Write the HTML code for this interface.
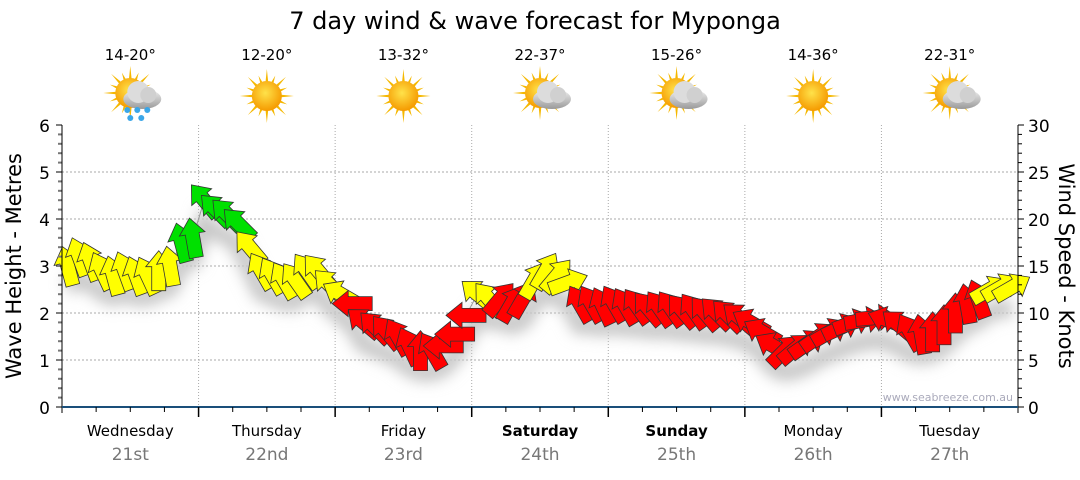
<!DOCTYPE html>
<html><head><meta charset="utf-8"><style>
body{margin:0;background:#fff;width:1080px;height:475px;overflow:hidden;font-family:"Liberation Sans","DejaVu Sans",sans-serif}
svg text{font-family:"DejaVu Sans","Liberation Sans",sans-serif}
</style></head><body>
<svg id="chart" width="1080" height="475" xmlns="http://www.w3.org/2000/svg">
<defs>
<radialGradient id="sunG" cx="45%" cy="40%" r="60%"><stop offset="0" stop-color="#ffe24a"/><stop offset="1" stop-color="#f59a00"/></radialGradient>
<linearGradient id="cloudG" x1="0" y1="0" x2="0" y2="1"><stop offset="0" stop-color="#f2f2f2"/><stop offset="1" stop-color="#9a9a9a"/></linearGradient>
<filter id="shadow" x="-50%" y="-50%" width="200%" height="200%"><feGaussianBlur stdDeviation="7"/></filter>
</defs>
<text x="535" y="29" font-size="24" text-anchor="middle" fill="#000">7 day wind &amp; wave forecast for Myponga</text>
<g id="grid"></g><g id="icons"></g><g id="shadows"></g><g id="line"></g><g id="arrows"></g><g id="axes"></g>
<text x="1013" y="401" font-size="11" text-anchor="end" fill="#aab">www.seabreeze.com.au</text>
<text transform="translate(21,266) rotate(-90)" font-size="21" text-anchor="middle">Wave Height - Metres</text>
<text transform="translate(1059,266) rotate(90)" font-size="21" text-anchor="middle">Wind Speed - Knots</text>
</svg>
<script>
const days=["Wednesday","Thursday","Friday","Saturday","Sunday","Monday","Tuesday"];
const dates=["21st","22nd","23rd","24th","25th","26th","27th"];
const boldDays=[false,false,false,true,true,false,false];
const temps=["14-20°","12-20°","13-32°","22-37°","15-26°","14-36°","22-31°"];
const icons=["rain","sun","sun","cloud","cloud","sun","cloud"];
const waveTicks=[0,1,2,3,4,5,6];
const windTicks=[0,5,10,15,20,25,30];
const waveHeight=[3.0,3.2,3.1,2.9,2.8,2.9,2.8,2.8,2.9,3.0,3.5,3.6,
 4.4,4.2,4.1,3.9,3.4,2.9,2.8,2.7,2.7,2.9,2.9,2.6,
 2.4,2.2,1.8,1.7,1.6,1.5,1.3,1.2,1.2,1.3,1.55,1.95,
 2.4,2.3,2.3,2.2,2.3,2.7,2.9,2.8,2.65,2.2,2.2,2.15,
 2.2,2.15,2.15,2.1,2.1,2.1,2.05,2.05,2.0,2.0,1.95,1.9,
 1.8,1.6,1.3,1.2,1.25,1.35,1.5,1.6,1.7,1.8,1.85,1.9,
 1.85,1.75,1.6,1.55,1.6,1.75,2.0,2.2,2.3,2.5,2.55,2.55];
const windDir=[-15,-20,-20,-25,-15,-20,-20,-25,0,-10,-15,-10,
 -40,-45,-45,-45,-40,-30,-30,-30,-35,-35,-40,-45,
 -60,-90,-50,-45,-40,-30,-25,0,-30,-90,-90,-90,
 -50,-40,40,30,30,30,30,40,70,-30,-30,-25,
 -30,-30,-35,-40,-35,-35,-40,-35,-40,-45,-45,-50,
 -60,-60,-60,45,50,55,55,60,65,70,80,85,
 -70,-50,-30,-10,0,0,0,-10,-20,60,60,60];
const windSpeed=[14,14,14,14,14,14,14,14,14,14,18,18,
 19,18,18,18,14,14,14,14,14,14,14,13,
 13,9,9,9,9,9,9,9,9,9,9,9,
 13,13,10,10,10,14,14,14,13,10,10,10,
 10,10,10,10,10,10,10,10,10,10,10,10,
 9,9,9,9,9,9,9,9,9,9,9,9,
 9,9,9,9,9,9,9,9,9,13,13,13];
const NS='http://www.w3.org/2000/svg';
const X0=62,X1=1018,Y0=407,Y1=125,dayW=(X1-X0)/7,PER=12;
const yW=h=>Y0-h*(Y0-Y1)/6, yK=k=>Y0-k*(Y0-Y1)/30, xI=i=>X0+(i+0.5)*dayW/PER;
function mk(p,t,a){const e=document.createElementNS(NS,t);for(const k in a)e.setAttribute(k,a[k]);p.appendChild(e);return e;}
const grid=document.getElementById('grid'),axes=document.getElementById('axes');
waveTicks.forEach(v=>{if(v>0&&v<6){const l=mk(grid,'line',{x1:X0,x2:X1,y1:yW(v),y2:yW(v),stroke:'#aaa','stroke-dasharray':'2,2'});}
 const t=mk(axes,'text',{x:50,y:yW(v)+7,'font-size':17,'text-anchor':'end',fill:'#000'});t.textContent=v;
 mk(axes,'line',{x1:X0-6,x2:X0,y1:yW(v),y2:yW(v),stroke:'#000'});});
for(let m=0;m<=30;m++){if(m%5)mk(axes,'line',{x1:X0-4,x2:X0,y1:yW(m/5),y2:yW(m/5),stroke:'#777','stroke-width':2});}
windTicks.forEach(v=>{const t=mk(axes,'text',{x:1028,y:yK(v)+7,'font-size':17,fill:'#000'});t.textContent=v;mk(axes,'line',{x1:X1,x2:X1+6,y1:yK(v),y2:yK(v),stroke:'#000'});});
for(let k=0;k<=30;k++){if(k%5)mk(axes,'line',{x1:X1,x2:X1+4,y1:yK(k),y2:yK(k),stroke:'#000'});}
mk(axes,'line',{x1:X0,x2:X0,y1:Y1,y2:Y0+6,stroke:'#000'});
mk(axes,'line',{x1:X1,x2:X1,y1:Y1,y2:Y0+6,stroke:'#000'});
mk(axes,'line',{x1:X0,x2:X1,y1:Y0,y2:Y0,stroke:'#1a4f7a','stroke-width':2});
const ic=document.getElementById('icons');
days.forEach((d,i)=>{const xl=X0+i*dayW,xc=xl+dayW/2;
 if(i>0){const g=mk(grid,'line',{x1:xl,x2:xl,y1:Y1,y2:Y0,stroke:'#aaa','stroke-dasharray':'1,2'});mk(axes,'line',{x1:xl,x2:xl,y1:Y0,y2:Y0+10,stroke:'#000','stroke-width':1.5});}
 for(let q=1;q<4;q++)mk(axes,'line',{x1:xl+q*dayW/4,x2:xl+q*dayW/4,y1:Y0,y2:Y0+5,stroke:'#000'});
 const t=mk(axes,'text',{x:xc,y:436,'font-size':15,'text-anchor':'middle','font-weight':boldDays[i]?'bold':'normal'});t.textContent=d;
 const t2=mk(axes,'text',{x:xc,y:460,'font-size':17,'text-anchor':'middle',fill:'#777'});t2.textContent=dates[i];
 const t3=mk(ic,'text',{x:xc,y:60,'font-size':15,'text-anchor':'middle'});t3.textContent=temps[i];
 const g=mk(ic,'g',{transform:`translate(${xc},${icons[i]=='sun'?96:93})`});
 for(let r=0;r<16;r++){const a=r*Math.PI/8,L=r%2?22:27;mk(g,'polygon',{points:`${Math.cos(a-0.13)*12},${Math.sin(a-0.13)*12} ${Math.cos(a)*L},${Math.sin(a)*L} ${Math.cos(a+0.13)*12},${Math.sin(a+0.13)*12}`,fill:'#f5b800'});}
 mk(g,'circle',{r:15,fill:'url(#sunG)'});
 if(icons[i]!='sun'){mk(g,'ellipse',{cx:12,cy:6,rx:19,ry:10,fill:'url(#cloudG)'});mk(g,'circle',{cx:8,cy:-1,r:11,fill:'#dcdcdc'});mk(g,'circle',{cx:18,cy:2,r:8,fill:'#d0d0d0'});}
 if(icons[i]=='rain'){[[-3,17],[7,17],[17,17],[0,25],[11,25]].forEach(p=>mk(g,'circle',{cx:p[0],cy:p[1],r:3,fill:'#3aa6e8'}));}
});
const sh=document.getElementById('shadows'),ar=document.getElementById('arrows');
let pts=waveHeight.map((h,i)=>xI(i)+','+yW(h)).join(' ');
const pl=mk(document.getElementById('line'),'polyline',{points:pts,fill:'none',stroke:'#999','stroke-width':1});
mk(sh,'polyline',{points:waveHeight.map((h,i)=>xI(i)+','+(yW(h)+22)).join(' '),fill:'none',stroke:'#c8c8c8','stroke-width':18,filter:'url(#shadow)'});
const col=k=>k>=17?'#00e000':k>=12?'#ffff00':'#ff0000';
waveHeight.forEach((h,i)=>{
 const p=mk(ar,'polygon',{points:'0,-20 13,-4 7,-4 7,20 -7,20 -7,-4 -13,-4',fill:col(windSpeed[i]),stroke:'#333','stroke-width':0.8,transform:`translate(${xI(i)},${yW(h)}) rotate(${windDir[i]})`});
 
 
});
</script>
</body></html>
